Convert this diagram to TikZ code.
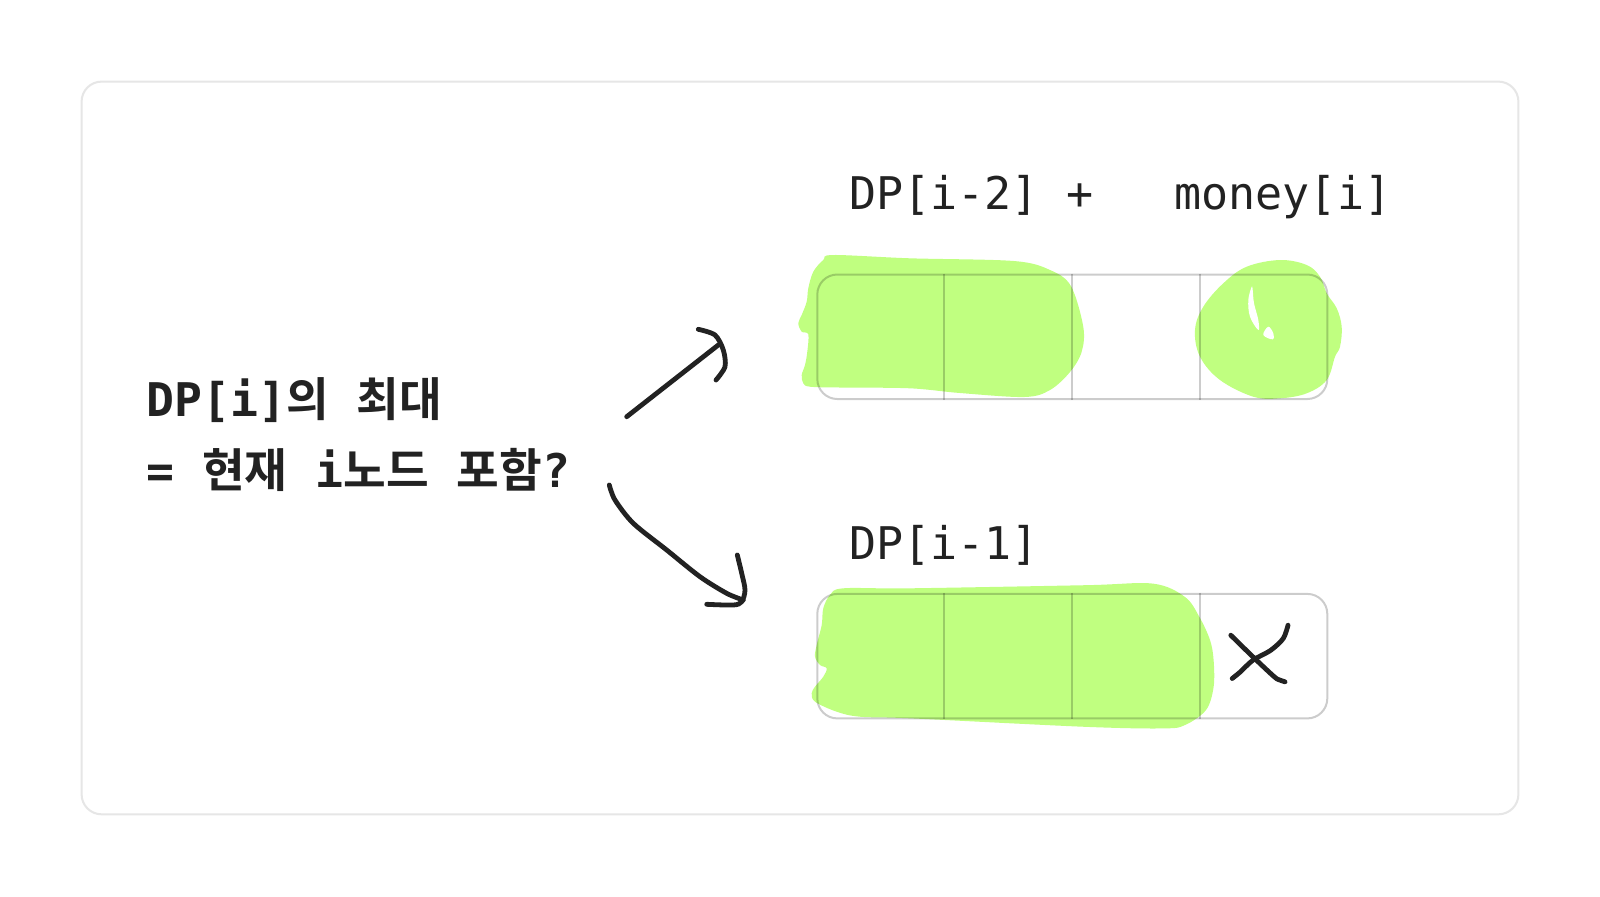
\documentclass[tikz,border=0pt]{standalone}
\usepackage{fontspec}
\setmainfont{DejaVu Sans Mono}
\newfontfamily\krfont[BoldFont={Noto Sans CJK KR Bold}]{Noto Sans CJK KR}
\usetikzlibrary{positioning,calc}
\definecolor{inkc}{HTML}{222222}
\definecolor{hlc}{HTML}{C0FF80}
\definecolor{framec}{HTML}{E6E6E6}
\newcommand{\kr}[1]{{\krfont #1}}

\begin{document}
\begin{tikzpicture}[x=0.5pt, y=-0.5pt,
  codetxt/.style={font=\fontsize{22.5pt}{27pt}\selectfont, text=inkc, anchor=base west, inner sep=0pt},
  asktxt/.style={codetxt, font=\fontsize{23.2pt}{27pt}\selectfont\bfseries},
  cellrow/.style={draw=black, draw opacity=0.2, line width=1pt, rounded corners=10pt,
                  minimum width=255pt, minimum height=62.25pt, inner sep=0pt, anchor=north west},
  hl/.style={fill=hlc, draw=none},
  pen/.style={draw=inkc, line width=2.4pt, line cap=round, line join=round}]
  \fill[white] (0,0) rectangle (1600,896);
  \useasboundingbox (0,0) rectangle (1600,896);
  \draw[framec, line width=1pt, rounded corners=10pt] (81.6,81.6) rectangle (1518.4,814.3);
  % question
  \node[asktxt] (askA) at (146,416) {DP[i]\kr{의} \kr{최대}};
  \node[asktxt] (askB) at (146,487) {= \kr{현재} i\kr{노드} \kr{포함}?};
  % labels
  \node[codetxt] (takeLbl) at (849,209) {DP[i-2]\ +\ \ \ money[i]};
  \node[codetxt] (skipLbl) at (849,559) {DP[i-1]};
  % highlighter strokes
  \fill[hl] plot[smooth cycle, tension=0.55] coordinates {(833.3,255) (910,258.3) (1013.7,261)
     (1050,270) (1070.9,286) (1083.3,327) (1081.6,352) (1070,372) (1050,390) (1024.4,397)
     (960,393) (910,388.3) (840,387.5) (810,386.7) (803.3,383.3) (801.7,375) (805,365) (807.3,351.7)
     (808.3,334.3) (801.7,331.7) (798.3,323.3) (801.7,315) (806.7,301.7) (808.3,288.3) (813.3,271.7)
     (823.3,260)};
  \fill[hl] plot[smooth cycle, tension=0.6] coordinates {(1280,260) (1306.7,265) (1320,276.7)
     (1326.7,293.3) (1336.7,308.3) (1341.7,326.7) (1340,346.7) (1335,356.7) (1326.7,380) (1306.7,393.3)
     (1280,398.3) (1253.3,396.7) (1220,380) (1200,356.7) (1195,330) (1203.3,306.7) (1223.3,283.3)
     (1246.7,266.7)};
  \fill[white] plot[smooth cycle, tension=0.6] coordinates {(1251.7,286.7) (1248.3,300) (1250,316.7)
     (1258.3,330) (1258.3,320) (1254,303.3) (1252.7,290)};
  \fill[white] plot[smooth cycle, tension=0.6] coordinates {(1268.3,326.7) (1273.3,333.3) (1272.7,339.3) (1263.3,335)};
  \fill[hl] plot[smooth cycle, tension=0.55] coordinates {(843.3,588.3) (910,588.3) (1085.1,585.2)
     (1153,583.6) (1185,597) (1199.4,617) (1210,640) (1213.6,660) (1213.6,687) (1206,710) (1185,725)
     (1163.7,728.4) (1085,726.8) (910,718.3) (860,716.7) (836.7,711.7) (815,701.7) (811.7,693.3)
     (815,686.7) (823.3,676.7) (826.7,668.3) (820,665) (815,656.7) (816.7,645) (821.7,625)
     (823.3,608.3) (830,595)};
  % arrays
  \node[cellrow] (takeRow) at (816.3,273.5) {};
  \node[cellrow] (skipRow) at (816.3,592.9) {};
  \foreach \r in {takeRow,skipRow}
    \foreach \k in {1,2,3}
      \draw[black, draw opacity=0.2, line width=1pt]
        ($(\r.north west)!\k/4!(\r.north east)$) -- ($(\r.south west)!\k/4!(\r.south east)$);
  % hand arrows
  \coordinate (upTail) at (626.7,416.7);
  \coordinate (upTip) at (718.3,345);
  \draw[pen] (upTail) -- (upTip);
  \draw[pen] plot[smooth] coordinates {(698.3,329.3) (715,335) (723.3,350) (725,366.7) (716,380)};
  \draw[pen] plot[smooth] coordinates {(609.3,485) (615,500) (633.3,523.3) (666.7,550) (700,576.7)
     (726.7,593.3) (743.3,600)};
  \draw[pen] plot[smooth] coordinates {(737.3,555) (741.7,573.3) (745,590) (741.7,601.7) (733.3,605) (706.7,604.3)};
  % cross
  \draw[pen, line width=2.4pt] plot[smooth] coordinates {(1230.8,635.2) (1252.9,656.8) (1274.3,676.8)
     (1279.7,680) (1285,681.8)};
  \draw[pen, line width=2.4pt] plot[smooth] coordinates {(1288,625.2) (1283.2,638.5) (1270.8,650.2)
     (1252.9,660.2) (1240.4,671.8) (1232.2,678.5)};
\end{tikzpicture}
\end{document}
